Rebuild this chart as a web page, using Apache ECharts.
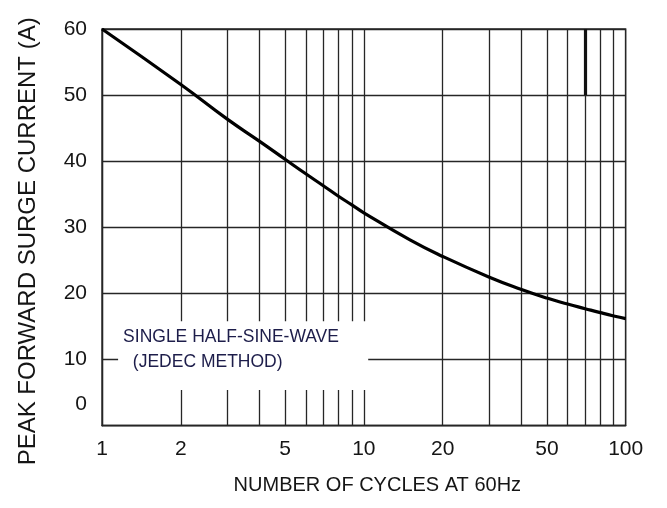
<!DOCTYPE html>
<html><head><meta charset="utf-8">
<script src="https://cdn.jsdelivr.net/npm/echarts@6/dist/echarts.min.js"></script>
<style>html,body{margin:0;padding:0;background:#fff}#c{width:667px;height:508px}</style>
</head><body><div id="c"></div>
<script>
// ---- data ----
const cycles = [1, 2, 3, 4, 5, 6, 7, 8, 9, 10, 15, 20, 30, 40, 50, 60, 70, 80, 90, 100];
const surgeCurrent = [60.0, 51.6, 46.4, 43.0, 40.3, 38.1, 36.3, 34.7, 33.4, 32.2, 28.1, 25.6, 22.5, 20.6, 19.3, 18.4, 17.7, 17.1, 16.6, 16.2];
const xTickLabels = [1, 2, 5, 10, 20, 50, 100];
const minorGridX = [2, 3, 4, 5, 6, 7, 8, 9, 20, 30, 40, 50, 60, 70, 80, 90];
const yMin = 0, yMax = 60, yStep = 10;
const boxLines = ['SINGLE HALF-SINE-WAVE', '  (JEDEC METHOD)'];
const boxX = [1.152, 10.39];
const boxY = [5.4, 15.8];
const heavyX = 70, heavyY = [50, 60];
const xTitle = 'NUMBER OF CYCLES AT 60Hz';
const yTitle = 'PEAK FORWARD SURGE CURRENT (A)';

const FONT = "'Liberation Sans', Arial, Helvetica, sans-serif";
const GRID_COLOR = '#262626';
const GRID_W = 1.3;

const chart = echarts.init(document.getElementById('c'), null, {renderer: 'canvas'});

const minorLines = minorGridX.map(x => [{coord: [x, yMin]}, {coord: [x, yMax]}]);
minorLines.push([
  {coord: [heavyX, heavyY[0]], lineStyle: {width: 3.2, color: '#111'}},
  {coord: [heavyX, heavyY[1]]}
]);

const option = {
  animation: false,
  backgroundColor: '#fff',
  grid: {left: 102, top: 29, right: 41.3, bottom: 82.3, show: true,
         borderColor: GRID_COLOR, borderWidth: GRID_W, backgroundColor: 'transparent'},
  xAxis: {
    type: 'log', logBase: 10, min: 1, max: 100,
    name: xTitle, nameLocation: 'middle', nameGap: 50,
    nameTextStyle: {fontFamily: FONT, fontSize: 20, color: '#151515', padding: [0, 0, 0, 27]},
    axisLine: {show: true, lineStyle: {color: GRID_COLOR, width: GRID_W}},
    axisTick: {show: false},
    axisLabel: {show: false},
    splitLine: {show: true, lineStyle: {color: GRID_COLOR, width: GRID_W}},
    minorSplitLine: {show: false}
  },
  yAxis: {
    type: 'value', min: yMin, max: yMax, interval: yStep,
    name: yTitle, nameLocation: 'middle', nameGap: 62, nameRotate: 90,
    nameTextStyle: {fontFamily: FONT, fontSize: 24, color: '#151515', padding: [0, 28, 0, 0]},
    axisLine: {show: true, lineStyle: {color: GRID_COLOR, width: GRID_W}},
    axisTick: {show: false},
    axisLabel: {
      margin: 15, fontFamily: FONT, fontSize: 21, color: '#151515',
      formatter: v => v === 0 ? '{z|0}' : String(v),
      rich: {z: {fontFamily: FONT, fontSize: 21, color: '#151515', padding: [0, 0, 43, 0]}}
    },
    splitLine: {show: true, lineStyle: {color: GRID_COLOR, width: GRID_W}}
  },
  series: [
    {
      name: 'grid', type: 'line', data: [], silent: true,
      markLine: {
        silent: true, z: 1, symbol: ['none', 'none'], animation: false,
        label: {show: false},
        lineStyle: {color: GRID_COLOR, width: GRID_W, type: 'solid'},
        emphasis: {disabled: true},
        data: minorLines
      }
    },
    {
      name: 'mask', type: 'line', data: [], silent: true,
      markArea: {
        silent: true, z: 3, animation: false,
        itemStyle: {color: '#ffffff', opacity: 1},
        label: {
          show: true, position: 'insideTopLeft', distance: 0,
          padding: [3, 0, 0, 5],
          fontFamily: FONT, fontSize: 17.5, lineHeight: 25.4, color: '#1d1d4a',
          formatter: boxLines.join('\n')
        },
        emphasis: {disabled: true},
        data: [[{coord: [boxX[0], boxY[1]]}, {coord: [boxX[1], boxY[0]]}]]
      }
    },
    {
      name: 'curve', type: 'line', z: 4, smooth: 0.5, symbol: 'none',
      lineStyle: {color: '#000', width: 3.2},
      data: cycles.map((c, i) => [c, surgeCurrent[i]])
    },
    {
      name: 'xlabels', type: 'line', data: [], silent: true,
      markPoint: {
        silent: true, z: 5, animation: false,
        symbol: 'circle', symbolSize: 1,
        itemStyle: {color: 'rgba(0,0,0,0)'},
        label: {show: true, position: 'bottom', distance: 13,
                fontFamily: FONT, fontSize: 21, color: '#151515',
                formatter: p => String(p.value)},
        data: xTickLabels.map(v => ({coord: [v, yMin], value: v}))
      }
    }
  ]
};
chart.setOption(option);
</script>
</body></html>
